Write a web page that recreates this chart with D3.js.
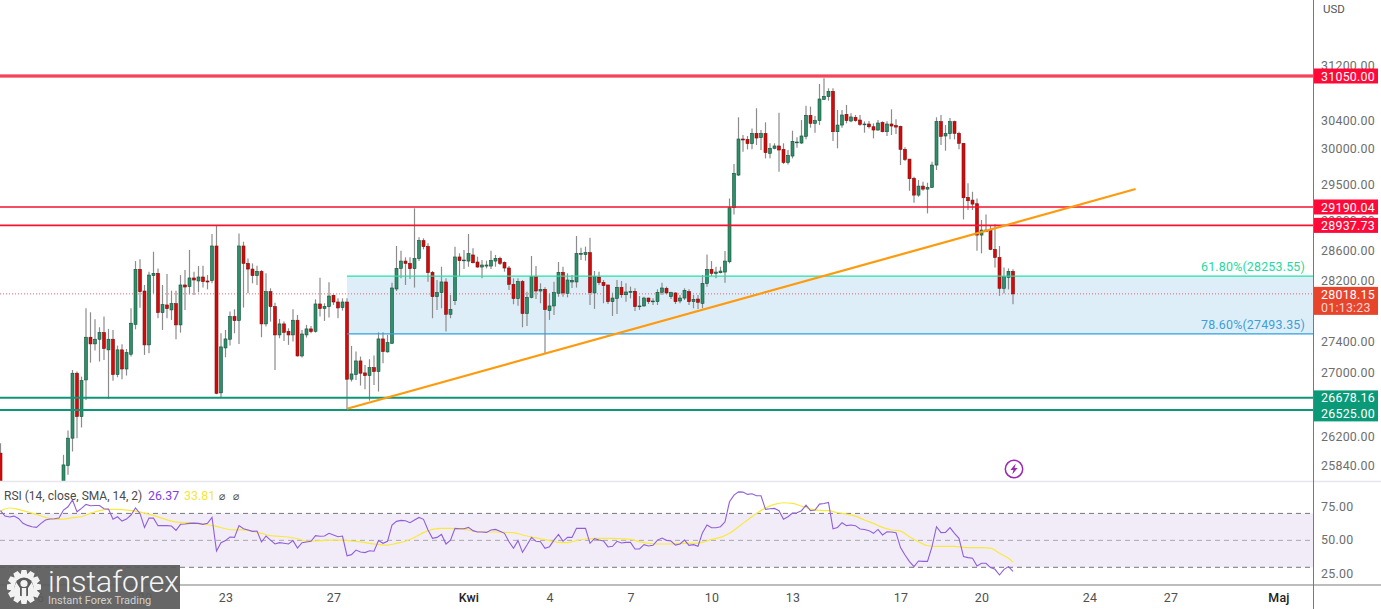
<!DOCTYPE html>
<html>
<head>
<meta charset="utf-8">
<script src="https://cdn.jsdelivr.net/npm/d3@7"></script>
<style>
html, body { margin: 0; padding: 0; background: #fff; overflow: hidden; }
text { font-family: Roboto, "Noto Sans", sans-serif; }
</style>
</head>
<body>
<svg id="chart" width="1381" height="609"></svg>
<script>
// 4h candles, oldest first, last bar is 21 Apr 04:00
var highs = [26113,
25520,25400,25380,25300,25280,25420,25500,25520,25440,25560,25580,25500,25610,
25970,26269,27031,27010,26946,27828,27776,27685,27580,27720,27559,27546,27343,27360,27300,27828,28455,28478,28136,28313,28581,28357,28136,28282,28061,28061,28268,28335,28604,28313,28388,28393,28268,28820,28930,27502,27546,27785,27815,28829,28716,28491,28424,28393,28335,28291,28092,27902,27689,27654,27567,27815,27741,27546,27611,27598,27946,28233,27894,28171,28012,27959,27959,
27959,27339,27266,27202,27095,27168,27215,27515,27515,27481,28167,28658,28595,28505,28505,29172,28775,28762,28694,28322,28202,28379,28224,28003,28649,28559,28604,28820,28626,28514,28469,28460,28595,28537,28514,28451,28388,28224,28224,28202,28047,28523,28388,28158,28105,28025,28180,28442,28379,28291,28268,28793,28635,28649,28770,28322,28313,28202,28136,28034,28202,28189,28158,28114,28092,27990,27981,27968,27959,28078,28167,28114,28047,28039,28003,28092,28078,28003,28003,
28268,28544,28455,28379,28379,28590,29308,29787,30451,30198,30184,30292,30581,30269,30379,30080,30080,30518,30080,29985,30259,30165,30413,30619,30605,30470,30934,31017,30870,30870,30557,30557,30629,30509,30484,30484,30393,30398,30364,30412,30393,30393,30566,30422,30331,30023,29857,29610,29563,29540,29526,29820,30451,30484,30340,30441,30403,30245,30080,29517,29400,29308,29011,29088,28942,28955,28657,28370,28357,28344];
var lows = [25400,
25120,25150,25180,25040,25060,25190,25340,25270,25260,25370,25330,25350,25420,
25585,25726,26011,26175,26307,26651,27124,27279,27138,27159,26663,26892,26938,26913,26959,27202,27554,27837,27223,27245,28025,27698,27546,27698,27676,27425,27511,27807,28012,28003,28039,28101,28078,28158,26723,26685,27193,27343,27502,27365,27837,28025,28158,28136,27451,27589,27654,27031,27438,27403,27352,27395,27202,27189,27446,27502,27511,27720,27663,27707,27872,27698,27798,
26527,26883,26904,26832,26786,26643,26841,26757,27116,27253,27365,28056,28224,28136,28215,28101,28455,28613,28180,27698,27807,27828,27524,27698,27872,28255,28348,28379,28424,28366,28224,28357,28348,28379,28402,28313,28070,27881,27863,27580,27598,27959,27950,27894,27236,27676,27741,27981,27981,27972,28096,28101,28469,28460,27872,27820,28136,27894,27885,27728,27754,27968,27915,27959,27794,27807,27850,27885,27872,27872,28003,28012,27950,27885,27894,27937,27872,27828,27820,
27827,28113,28255,28224,28290,28166,28424,29088,29619,29961,29994,29994,30056,29985,29867,29867,29994,29680,29787,29782,29867,30018,30070,30136,30302,30231,30340,30701,30691,30113,30009,30302,30364,30379,30388,30331,30231,30292,30150,30259,30236,30184,30198,30212,29773,29829,29414,29249,29331,29414,29102,29456,29703,30056,29975,30136,30136,29994,29018,29148,29148,28594,28559,28851,28603,28370,27993,28024,28077,27880];
var opens = [25991,
25500,25210,25330,25240,25100,25220,25380,25450,25310,25400,25510,25380,25470,
25646,25839,26175,26989,26443,26904,27451,27365,27425,27511,27288,27425,26972,27288,27043,27232,27619,28344,28056,27352,28260,28291,27772,27872,27807,27889,27611,28136,28114,28229,28189,28242,28189,28193,28658,26740,27313,27425,27720,27667,28658,28424,28348,28260,28317,27624,28047,27850,27481,27624,27528,27481,27672,27210,27481,27559,27528,27885,27824,27850,27999,27911,27837,
27911,26913,26972,27146,26993,26959,27060,27010,27429,27262,27373,28083,28357,28455,28424,28353,28487,28730,28653,28304,27981,28034,28176,27750,27928,28510,28460,28455,28537,28442,28375,28388,28388,28455,28491,28437,28362,28145,27955,28180,27759,27972,28246,28056,28078,27798,27859,28025,28304,28025,28176,28176,28546,28541,28568,28030,28242,28171,28136,27915,27959,28105,28007,28039,28052,27850,27859,27963,27920,27915,28039,28092,27981,28030,27924,27963,28047,27915,27950,
27893,28157,28344,28290,28299,28308,28446,29180,29633,30141,30136,30075,30221,30160,30221,29938,30009,30042,29994,29810,29900,30089,30084,30179,30480,30364,30403,30710,30749,30826,30245,30340,30494,30398,30451,30412,30350,30355,30316,30269,30379,30245,30355,30331,30321,29994,29857,29587,29354,29479,29437,29461,29773,30389,30184,30217,30389,30221,30080,29322,29285,29235,28806,28851,28874,28612,28504,28091,28237,28317];
var closes = [25500,
25210,25330,25240,25100,25220,25380,25450,25310,25400,25510,25380,25470,25560,
25847,26175,26989,26443,26896,27451,27365,27425,27511,27305,27425,26972,27288,27043,27253,27633,28344,28047,27352,28268,28291,27772,27876,27824,27889,27611,28136,28109,28229,28202,28242,28180,28176,28658,26735,27326,27429,27720,27667,28658,28424,28348,28260,28317,27624,28047,27850,27481,27624,27515,27481,27672,27210,27493,27559,27524,27885,27824,27854,27990,27911,27833,27911,
26913,26980,27146,26989,26959,27060,27010,27429,27266,27382,28096,28357,28455,28424,28353,28491,28730,28649,28300,27981,28034,28176,27750,27815,28510,28460,28469,28555,28433,28375,28402,28402,28464,28491,28424,28362,28145,27955,28180,27759,27972,28246,28056,28078,27811,27859,28034,28304,28030,28202,28198,28555,28559,28568,28034,28246,28167,28127,27915,27963,28105,28007,28043,28052,27850,27859,27963,27915,27924,28039,28096,28030,28034,27915,27963,28065,27915,27946,27907,
28157,28344,28290,28308,28321,28455,29180,29657,30141,30127,30075,30221,30155,30221,29947,30009,30042,29985,29810,29909,30108,30098,30184,30480,30364,30403,30715,30754,30826,30245,30340,30484,30403,30456,30403,30350,30355,30316,30269,30369,30245,30355,30326,30311,29994,29852,29582,29354,29479,29437,29461,29773,30389,30179,30221,30389,30221,30080,29317,29276,29230,28806,28874,28874,28612,28504,28091,28246,28317,28018];

// RSI per bar, same bar order but starting at the x=0 bar
var rsiValues = [72.0,68.0,67.3,68.0,66.3,62.6,61.1,60.1,59.6,62.6,65.1,65.8,66.0,66.5,72.5,74.9,79.9,71.2,73.7,76.7,75.7,75.9,75.9,73.5,73.2,65.6,67.5,64.3,65.8,68.8,74.0,70.0,59.6,66.5,66.5,60.9,60.9,60.9,60.6,57.4,61.9,62.1,62.6,62.8,62.6,61.9,62.6,67.0,42.1,48.3,49.8,52.5,52.2,60.9,58.6,57.7,56.7,56.9,48.8,53.2,50.2,47.3,48.3,47.8,47.3,49.8,44.3,48.3,48.8,49.3,53.5,53.0,53.2,55.2,54.0,52.7,53.2,38.6,39.4,42.8,41.4,40.9,42.3,41.9,49.8,47.8,49.3,61.4,64.1,64.8,64.6,63.1,65.1,67.0,65.6,57.7,51.5,52.2,54.4,47.3,50.2,58.9,
58.6,58.6,59.6,57.2,56.2,56.2,55.9,57.7,58.1,56.7,55.2,49.0,44.1,49.8,41.1,46.5,52.2,49.3,49.0,44.1,45.3,50.2,54.4,49.3,52.2,52.2,58.9,58.9,58.9,47.8,51.2,50.2,49.5,45.1,45.6,49.3,48.0,48.5,48.5,43.6,43.6,46.8,45.8,46.3,50.2,51.7,50.0,49.5,46.5,47.3,50.2,46.3,46.8,45.6,55.7,61.4,59.4,59.4,60.1,63.8,78.6,83.6,86.0,85.8,84.1,84.6,83.1,83.1,73.0,73.5,73.7,72.0,65.6,67.5,70.2,70.5,72.0,76.2,72.0,72.5,76.9,77.4,78.1,58.6,59.6,63.1,60.9,61.4,60.9,58.4,58.1,57.2,55.2,58.1,54.0,56.4,56.2,55.7,44.6,39.1,34.2,30.5,34.7,34.4,34.4,45.3,60.1,55.7,55.9,59.4,55.2,51.5,37.9,37.2,36.7,31.0,33.0,33.0,29.8,28.5,24.3,28.5,30.5,27.0];
// SMA of RSI, plus the last bar
var signalValues = [71.7,74.0,73.0,71.2,69.3,67.0,65.6,65.8,66.8,67.5,70.0,72.0,73.0,73.0,72.5,71.7,70.2,68.5,66.3,64.3,63.3,63.1,62.3,61.6,60.4,58.6,57.7,57.7,56.7,55.2,53.5,53.0,52.5,51.2,49.5,49.5,50.0,50.2,50.2,49.5,48.8,47.8,47.0,46.5,47.8,49.3,52.2,55.7,58.1,58.9,58.9,58.4,
57.7,56.4,56.2,56.2,55.9,55.7,54.0,52.5,51.2,49.8,48.5,48.3,49.8,51.0,51.5,51.5,51.5,51.2,50.7,49.0,47.8,47.3,47.3,47.5,47.8,47.8,48.5,50.7,52.2,55.2,60.1,65.1,70.0,74.0,76.7,77.9,77.4,75.4,73.2,72.2,72.0,70.5,69.5,68.0,65.1,62.6,59.6,57.7,56.9,52.7,49.0,46.0,45.6,45.6,45.6,44.8,44.6,44.6,44.3,40.4,36.7,33.8];

var priceTicks = [31200, 30400, 30000, 29500, 29000, 28600, 28200, 27400, 27000, 26200, 25840];
var rsiTicks = [75, 50, 25];
var rsiBands = [70, 50, 30];
var timeTicks = ["2023-03-16", "2023-03-20", "2023-03-23", "2023-03-27", "2023-04-01", "2023-04-04", "2023-04-07", "2023-04-10", "2023-04-13", "2023-04-17", "2023-04-20", "2023-04-24", "2023-04-27", "2023-05-01"];
var timeLabels = ["16", "20", "23", "27", "Kwi", "4", "7", "10", "13", "17", "20", "24", "27", "Maj"];

var redLevels = [31050.00, 29190.04, 28937.73];
var greenLevels = [26678.16, 26525.00];
var fibPrices = [28253.55, 27493.35];
var fibLabels = ["61.80%(28253.55)", "78.60%(27493.35)"];
var lastPrice = 28018.15;
var countdown = "01:13:23";
var trendTimes = ["2023-03-27T12:00Z", "2023-04-25T17:00Z"];
var trendPrices = [26540, 29438];

var axisX = 1313, paneBottom = 481, rsiBottom = 585;
var barMs = 4 * 3600 * 1000;
var lastBar = Date.UTC(2023, 3, 21, 4);

var x = d3.scaleUtc().domain([new Date("2023-03-23"), new Date("2023-04-20")]).range([225.5, 981.5]);
var y = d3.scaleLog().domain([26525, 31050]).range([410, 76]);
var r = d3.scaleLinear().domain([30, 70]).range([567.3, 513.4]);

function barX(ago) { return x(new Date(lastBar - ago * barMs)); }

var svg = d3.select("#chart");
var defs = svg.append("defs");
defs.append("clipPath").attr("id", "mainClip").append("rect").attr("width", axisX).attr("height", paneBottom);
defs.append("clipPath").attr("id", "rsiClip").append("rect").attr("y", paneBottom).attr("width", axisX).attr("height", rsiBottom - paneBottom);

var main = svg.append("g").attr("clip-path", "url(#mainClip)");

// fib zone
main.append("rect").attr("x", barX(148)).attr("y", y(fibPrices[0]))
  .attr("width", axisX - barX(148)).attr("height", y(fibPrices[1]) - y(fibPrices[0]))
  .attr("fill", "#deeef8");

// last price dotted line
main.append("line").attr("x1", 0).attr("x2", axisX).attr("y1", y(lastPrice)).attr("y2", y(lastPrice))
  .attr("stroke", "#ef5f6f").attr("stroke-width", 1).attr("stroke-dasharray", "1,2");

// candles
var bars = d3.range(highs.length).map(function (i) {
  return { ago: highs.length - 1 - i, h: highs[i], l: lows[i], o: opens[i], c: closes[i] };
});
main.selectAll("line.wick").data(bars).join("line").attr("class", "wick")
  .attr("x1", function (d) { return barX(d.ago); }).attr("x2", function (d) { return barX(d.ago); })
  .attr("y1", function (d) { return y(d.h); }).attr("y2", function (d) { return y(d.l); })
  .attr("stroke", "#8c8c8c").attr("stroke-width", 1.2);
main.selectAll("rect.body").data(bars).join("rect").attr("class", "body")
  .attr("x", function (d) { return barX(d.ago) - 1.5; }).attr("width", 3)
  .attr("y", function (d) { return y(Math.max(d.o, d.c)); })
  .attr("height", function (d) { return Math.max(0.8, Math.abs(y(d.o) - y(d.c))); })
  .attr("fill", function (d) { return d.c >= d.o ? "#2f8f6a" : "#d40a0a"; })
  .attr("stroke", function (d) { return d.c >= d.o ? "#13513a" : "#7d1010"; })
  .attr("stroke-width", 0.6);

// level lines
main.selectAll("line.red").data(redLevels).join("line").attr("class", "red")
  .attr("x1", 0).attr("x2", axisX).attr("y1", function (d) { return y(d); }).attr("y2", function (d) { return y(d); })
  .attr("stroke", "#f2132f").attr("stroke-width", function (d, i) { return i == 0 ? 3.2 : 1.6; });
main.append("line").attr("x1", 0).attr("x2", axisX).attr("y1", y(redLevels[0])).attr("y2", y(redLevels[0]))
  .attr("stroke", "#f8a0a8").attr("stroke-width", 0.7);
main.selectAll("line.green").data(greenLevels).join("line").attr("class", "green")
  .attr("x1", 0).attr("x2", axisX).attr("y1", function (d) { return y(d); }).attr("y2", function (d) { return y(d); })
  .attr("stroke", "#0f9678").attr("stroke-width", 2);

main.selectAll("line.fib").data(fibPrices).join("line").attr("class", "fib")
  .attr("x1", barX(148)).attr("x2", axisX).attr("y1", function (d) { return y(d); }).attr("y2", function (d) { return y(d); })
  .attr("stroke", function (d, i) { return i == 0 ? "#25e0a6" : "#2f9fe0"; }).attr("stroke-width", 1.3);
main.selectAll("text.fib").data(fibLabels).join("text").attr("class", "fib")
  .attr("x", 1305).attr("y", function (d, i) { return y(fibPrices[i]) - 5; })
  .attr("text-anchor", "end").attr("font-size", 12.4)
  .attr("fill", function (d, i) { return i == 0 ? "#25d8a0" : "#3d9fd8"; })
  .style("letter-spacing", "0.2px")
  .text(function (d) { return d; });

// trend line
main.append("line")
  .attr("x1", x(new Date(trendTimes[0]))).attr("y1", y(trendPrices[0]))
  .attr("x2", x(new Date(trendTimes[1]))).attr("y2", y(trendPrices[1]))
  .attr("stroke", "#ff9a0c").attr("stroke-width", 2.2);

// bolt marker
var bolt = svg.append("g").attr("transform", "translate(1014,469)");
bolt.append("circle").attr("r", 8.7).attr("fill", "#fff").attr("stroke", "#9c27b0").attr("stroke-width", 1.5);
bolt.append("path").attr("d", "M1.8,-5.4 L-3.6,1 L-0.5,1 L-1.8,5.4 L3.6,-1 L0.5,-1 Z").attr("fill", "#9c27b0");

// RSI pane
var pane = svg.append("g").attr("clip-path", "url(#rsiClip)");
pane.append("rect").attr("x", 0).attr("width", axisX).attr("y", r(70)).attr("height", r(30) - r(70)).attr("fill", "#f2ecf9");
pane.selectAll("line.band").data(rsiBands).join("line").attr("class", "band")
  .attr("x1", 0).attr("x2", axisX).attr("y1", function (d) { return r(d); }).attr("y2", function (d) { return r(d); })
  .attr("stroke", function (d) { return d == 50 ? "#a8a8a8" : "#777"; })
  .attr("stroke-width", 1).attr("stroke-dasharray", "5,4");

var rsiLine = d3.line()
  .x(function (d, i) { return barX(rsiValues.length - 1 - i); })
  .y(function (d) { return r(d); });
var signalAgo = d3.range(225, 0, -2).concat([0]);
var signalLine = d3.line()
  .x(function (d, i) { return barX(signalAgo[i]); })
  .y(function (d) { return r(d); })
  .curve(d3.curveMonotoneX);
pane.append("path").attr("d", signalLine(signalValues)).attr("fill", "none").attr("stroke", "#f8ea3c").attr("stroke-width", 1.2);
pane.append("path").attr("d", rsiLine(rsiValues)).attr("fill", "none").attr("stroke", "#8f5fd8").attr("stroke-width", 1.1);

var legend = svg.append("text").attr("x", 4).attr("y", 500).attr("font-size", 12);
legend.append("tspan").attr("fill", "#4a4a4a").text("RSI (14, close, SMA, 14, 2)");
legend.append("tspan").attr("x", 148).attr("fill", "#7e3fe0").attr("font-size", 12.4).text("26.37");
legend.append("tspan").attr("x", 184).attr("fill", "#f4e63a").attr("font-size", 12.4).text("33.81");
legend.append("tspan").attr("x", 219).attr("fill", "#555").attr("font-family", "DejaVu Sans").attr("font-size", 11).text("\u2300");
legend.append("tspan").attr("x", 233).attr("fill", "#555").attr("font-family", "DejaVu Sans").attr("font-size", 11).text("\u2300");

// separators and axis lines
svg.append("line").attr("x1", 0).attr("x2", 1381).attr("y1", paneBottom + 0.5).attr("y2", paneBottom + 0.5).attr("stroke", "#e6e8ee").attr("stroke-width", 1.4);
svg.append("line").attr("x1", 0).attr("x2", 1381).attr("y1", rsiBottom).attr("y2", rsiBottom).attr("stroke", "#bdbdbd").attr("stroke-width", 2);
svg.append("line").attr("x1", axisX + 0.5).attr("x2", axisX + 0.5).attr("y1", 0).attr("y2", 609).attr("stroke", "#77797f").attr("stroke-width", 1);

// axes
function styleAxis(g, color) {
  g.select(".domain").remove();
  g.selectAll(".tick line").remove();
  g.selectAll("text").attr("fill", color).attr("font-size", 12.4).style("font-family", "Roboto, sans-serif").style("letter-spacing", "0.25px");
}
var priceAxis = svg.append("g").attr("transform", "translate(" + (axisX + 8) + ",0)")
  .call(d3.axisRight(y).tickValues(priceTicks).tickSize(0).tickPadding(0).tickFormat(d3.format(".2f")));
styleAxis(priceAxis, "#6e6e6e");
var rsiAxis = svg.append("g").attr("transform", "translate(" + (axisX + 8) + ",0)")
  .call(d3.axisRight(r).tickValues(rsiTicks).tickSize(0).tickPadding(0).tickFormat(d3.format(".2f")));
styleAxis(rsiAxis, "#6e6e6e");
rsiAxis.selectAll(".tick").attr("transform", function (d) { return "translate(0," + r(d) + ")"; });

var timeAxis = svg.append("g").attr("transform", "translate(0," + (rsiBottom + 8) + ")")
  .call(d3.axisBottom(x).tickValues(timeTicks.map(function (d) { return new Date(d); })).tickSize(0).tickPadding(0)
    .tickFormat(function (d, i) { return timeLabels[i]; }));
styleAxis(timeAxis, "#505050");
timeAxis.selectAll("text").attr("font-weight", function (d, i) { return timeLabels[i] == "Kwi" || timeLabels[i] == "Maj" ? 500 : 400; })
  .attr("fill", function (d, i) { return timeLabels[i] == "Kwi" || timeLabels[i] == "Maj" ? "#222" : "#505050"; });

svg.append("text").attr("x", 1323).attr("y", 13).attr("font-size", 11.5).attr("fill", "#555").text("USD");

// price tags
function tag(yPos, h, color) {
  svg.append("rect").attr("x", axisX + 1).attr("y", yPos - h / 2).attr("width", 64).attr("height", h).attr("fill", color);
}
function tagText(yPos, s, fill) {
  svg.append("text").attr("x", axisX + 8).attr("y", yPos).attr("dy", "0.36em").attr("font-size", 12.4)
    .style("letter-spacing", "0.25px").attr("fill", fill || "#fff").text(s);
}
redLevels.forEach(function (p) { tag(y(p), 15, "#ff0a38"); tagText(y(p) + 0.5, d3.format(".2f")(p)); });
tag((y(greenLevels[0]) + y(greenLevels[1])) / 2 + 2, 31, "#0a9a78");
greenLevels.forEach(function (p, i) { tagText(y(p) + i * 4, d3.format(".2f")(p)); });
tag(y(lastPrice) + 7, 28, "#e8442c");
tagText(y(lastPrice) + 1, d3.format(".2f")(lastPrice));
tagText(y(lastPrice) + 14, countdown, "#f8d5cc");

// watermark
var logo = svg.append("g");
logo.append("rect").attr("x", 0).attr("y", 565).attr("width", 180).attr("height", 44).attr("fill", "#5a5a5a").attr("opacity", 0.93);
var gearPts = [];
d3.range(12).forEach(function (i) {
  var a = i / 12 * 2 * Math.PI, s = Math.PI / 12;
  [[a - s * 0.95, 13.5], [a - s * 0.55, 17.2], [a + s * 0.55, 17.2], [a + s * 0.95, 13.5]].forEach(function (p) {
    gearPts.push([p[1] * Math.cos(p[0]), p[1] * Math.sin(p[0])]);
  });
});
var gear = logo.append("g").attr("transform", "translate(24,587)");
gear.append("path").attr("d", d3.line()(gearPts) + "Z").attr("fill", "#f2f2f2");
gear.append("circle").attr("r", 9.5).attr("fill", "#5a5a5a");
gear.append("circle").attr("cy", -3.5).attr("r", 3.6).attr("fill", "#f2f2f2");
gear.append("path").attr("d", "M-2.2,1 L2.2,1 L2.2,14 L-2.2,14 Z M-8,-5 L-4,1 L-4,14 L-7,12 L-10,2 Z M8,-5 L4,1 L4,14 L7,12 L10,2 Z").attr("fill", "#f2f2f2");
logo.append("text").attr("x", 48).attr("y", 592).attr("font-size", 30).attr("font-weight", 300).attr("fill", "#f5f5f5").text("instaforex");
logo.append("text").attr("x", 48).attr("y", 604).attr("font-size", 11).attr("fill", "#d0d0d0").text("Instant Forex Trading");
</script>
</body>
</html>
